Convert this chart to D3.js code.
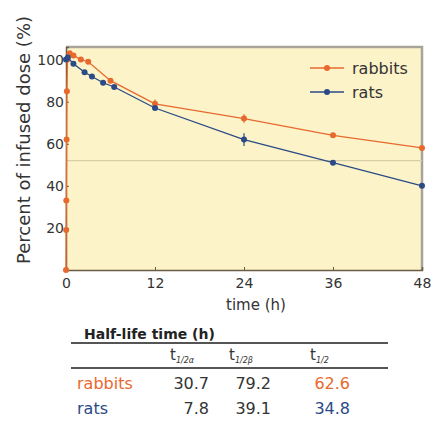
<!DOCTYPE html>
<html lang="en">
  <head>
    <meta charset="UTF-8" />
    <title>half-life</title>
    <style>
      body { margin: 0; background: #fff; }
      text { font-family: "DejaVu Sans", sans-serif; }
    </style>
  </head>
  <body>
    <svg width="435" height="421"></svg>
    <script src="https://cdn.jsdelivr.net/npm/d3@7"></script>
    <script>
      // plasma curves (% of infused dose vs time in h)
      var rabbitTime = [0, 0.02, 0.04, 0.08, 0.12, 0.2, 0.5, 1, 2, 3, 6, 12, 24, 36, 48];
      var rabbitPct = [0, 19, 33, 62, 85, 100, 103, 102, 100, 99, 90, 79, 72, 64, 58];
      var rabbitErr = [0, 0, 0, 0, 0, 0, 0, 0, 0, 0, 1, 2, 2, 1, 1];
      var ratTime = [0, 0.25, 1, 2.5, 3.5, 5, 6.5, 12, 24, 36, 48];
      var ratPct = [100, 101, 98, 94, 92, 89, 87, 77, 62, 51, 40];
      var ratErr = [0, 0, 0, 1, 1, 1, 1, 1, 3, 1, 1];
      var xTicks = [0, 12, 24, 36, 48];
      var yTicks = [0, 20, 40, 60, 80, 100];
      var halfLine = 52;

      // half-life table
      var tableCols = ["t1/2\u03b1", "t1/2\u03b2", "t1/2"];
      var tableRows = ["rabbits", "rats"];
      var alphaVals = ["30.7", "7.8"];
      var betaVals = ["79.2", "39.1"];
      var halfVals = ["62.6", "34.8"];

      var orange = "#e8692e", navy = "#2b4a86";
      var svg = d3.select("svg");
      var x = d3.scaleLinear().domain([0, 48]).range([66, 422]);
      var y = d3.scaleLinear().domain([0, 106]).range([270, 47]);

      svg.append("rect")
        .attr("x", 66).attr("y", 47).attr("width", 356).attr("height", 223)
        .attr("fill", "#fcf3c9");
      // top and right frame
      svg.append("path")
        .attr("d", "M66,47H422V270")
        .attr("fill", "none").attr("stroke", "#a9a49a").attr("stroke-width", 2.5);
      svg.append("line")
        .attr("x1", 66).attr("x2", 422).attr("y1", y(halfLine)).attr("y2", y(halfLine))
        .attr("stroke", "#d8cfa8").attr("stroke-width", 1.2);

      var xAxis = svg.append("g").attr("transform", "translate(0,270)")
        .call(d3.axisBottom(x).tickValues(xTicks).tickSize(-3).tickPadding(8));
      var yAxis = svg.append("g").attr("transform", "translate(66,0)")
        .call(d3.axisLeft(y).tickValues(yTicks.slice(1)).tickSize(-3).tickPadding(2));
      [xAxis, yAxis].forEach(function(g) {
        g.select(".domain").attr("stroke", "#6b5b45").attr("stroke-width", 1.5);
        g.selectAll(".tick line").attr("stroke", "#6b5b45");
        g.selectAll("text").attr("font-size", 14).attr("fill", "#333")
          .style("font-family", "DejaVu Sans, sans-serif");
      });

      svg.append("text").attr("x", 256).attr("y", 310).attr("text-anchor", "middle")
        .attr("font-size", 15).attr("fill", "#333").text("time (h)");
      svg.append("text").attr("transform", "translate(30,140) rotate(-90)")
        .attr("text-anchor", "middle").attr("font-size", 18).attr("fill", "#333")
        .text("Percent of infused dose (%)");

      var line = d3.line().x(function(d) { return x(d[0]); }).y(function(d) { return y(d[1]); });

      function series(ts, vs, es, col) {
        var pts = ts.map(function(t, i) { return [t, vs[i], es[i]]; });
        svg.append("path").datum(pts).attr("d", line)
          .attr("fill", "none").attr("stroke", col).attr("stroke-width", 1.3);
        svg.append("g").selectAll("line").data(pts.filter(function(d) { return d[2] > 0; }))
          .enter().append("line")
          .attr("x1", function(d) { return x(d[0]); }).attr("x2", function(d) { return x(d[0]); })
          .attr("y1", function(d) { return y(d[1] - d[2]); }).attr("y2", function(d) { return y(d[1] + d[2]); })
          .attr("stroke", col).attr("stroke-width", 1.2);
        svg.append("g").selectAll("circle").data(pts).enter().append("circle")
          .attr("cx", function(d) { return x(d[0]); }).attr("cy", function(d) { return y(d[1]); })
          .attr("r", 3).attr("fill", col);
      }
      series(rabbitTime, rabbitPct, rabbitErr, orange);
      series(ratTime, ratPct, ratErr, navy);

      // legend
      [["rabbits", orange, 68], ["rats", navy, 92]].forEach(function(l) {
        svg.append("line").attr("x1", 310).attr("x2", 344).attr("y1", l[2]).attr("y2", l[2])
          .attr("stroke", l[1]).attr("stroke-width", 1.3);
        svg.append("circle").attr("cx", 327).attr("cy", l[2]).attr("r", 3).attr("fill", l[1]);
        svg.append("text").attr("x", 352).attr("y", l[2] + 6).attr("font-size", 16)
          .attr("fill", "#333").text(l[0]);
      });

      // table
      var tb = svg.append("g");
      tb.append("text").attr("x", 84).attr("y", 339).attr("font-size", 14)
        .attr("fill", "#222").attr("font-weight", "bold").text("Half-life time (h)");
      tb.append("line").attr("x1", 71).attr("x2", 388).attr("y1", 343).attr("y2", 343)
        .attr("stroke", "#555").attr("stroke-width", 1.8);
      tb.append("line").attr("x1", 71).attr("x2", 388).attr("y1", 368).attr("y2", 368)
        .attr("stroke", "#555").attr("stroke-width", 1.8);
      var colX = [170, 229, 310];
      tableCols.forEach(function(c, i) {
        var t = tb.append("text").attr("x", colX[i]).attr("y", 360).attr("font-size", 15).attr("fill", "#333");
        t.append("tspan").text("t");
        t.append("tspan").attr("font-size", 8).attr("font-style", "italic").attr("dy", 3).text(c.slice(1));
      });
      var rowCol = [orange, navy];
      var rowY = [389, 414];
      var valX = [209, 271, 350];
      tableRows.forEach(function(r, i) {
        tb.append("text").attr("x", 77).attr("y", rowY[i]).attr("font-size", 16)
          .attr("fill", rowCol[i]).text(r);
        [alphaVals[i], betaVals[i], halfVals[i]].forEach(function(v, j) {
          tb.append("text").attr("x", valX[j]).attr("y", rowY[i]).attr("font-size", 16)
            .attr("text-anchor", "end").attr("fill", j === 2 ? rowCol[i] : "#333").text(v);
        });
      });
    </script>
  </body>
</html>
